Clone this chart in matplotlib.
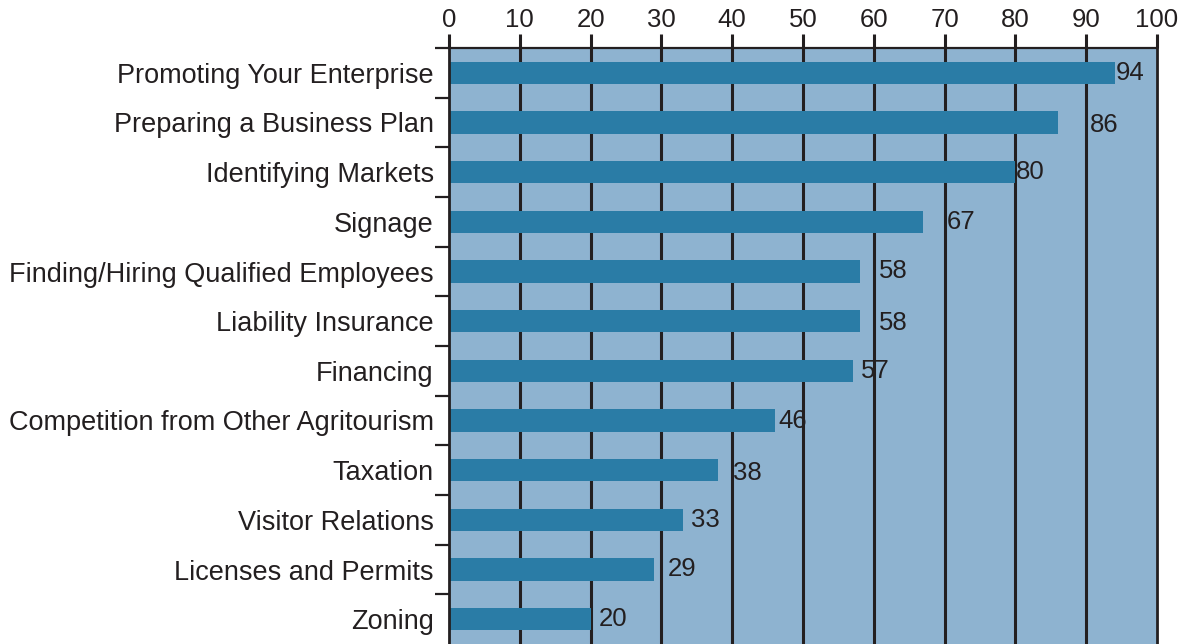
import matplotlib
matplotlib.use("Agg")
import matplotlib.pyplot as plt
import numpy as np

plt.rcParams['font.family'] = ['Liberation Sans', 'DejaVu Sans']

categories = [
    "Promoting Your Enterprise",
    "Preparing a Business Plan",
    "Identifying Markets",
    "Signage",
    "Finding/Hiring Qualified Employees",
    "Liability Insurance",
    "Financing",
    "Competition from Other Agritourism",
    "Taxation",
    "Visitor Relations",
    "Licenses and Permits",
    "Zoning",
]
values = [94, 86, 80, 67, 58, 58, 57, 46, 38, 33, 29, 20]
x_ticks = [0, 10, 20, 30, 40, 50, 60, 70, 80, 90, 100]

# label placement nudges (points) relative to each bar end
label_dx = [1, 23, 0, 17, 14, 14, 6, 3, 11, 6, 10, 6]
label_dy = [0, -2, 0, 0, 0, -1, 0, 0, -2, 0, 0, 0]

ink = "#231f20"
panel = "#8eb3d0"
bar_color = "#2a7ca6"

fig = plt.figure(figsize=(11.79, 6.44), dpi=100)
ax = fig.add_axes([449 / 1179, 0.0, (1157 - 449) / 1179, 1 - 48 / 644])
ax.set_facecolor(panel)

y = np.arange(len(categories))
ax.barh(y, values, height=0.45, color=bar_color, zorder=3)

ax.set_xlim(0, 100)
ax.set_ylim(len(categories) - 0.5, -0.5)

# vertical grid lines at every 10
for xv in x_ticks[1:-1]:
    ax.axvline(xv, color=ink, lw=2.2, zorder=2)

ax.xaxis.tick_top()
ax.set_xticks(x_ticks)
ax.set_xticklabels([str(v) for v in x_ticks])
ax.tick_params(axis='x', which='major', direction='out', length=10, width=2.2,
               color=ink, labelsize=18.5, labelcolor=ink, pad=1.5)

ax.set_yticks(y)
ax.set_yticklabels(categories)
ax.tick_params(axis='y', which='major', length=0, labelsize=19.5,
               labelcolor=ink, pad=11)
ax.set_yticks(np.arange(len(categories)) - 0.5, minor=True)
ax.tick_params(axis='y', which='minor', direction='out', length=10, width=1.6,
               color=ink)

for side in ['top', 'left', 'right']:
    ax.spines[side].set_color(ink)
ax.spines['top'].set_linewidth(1.6)
ax.spines['left'].set_linewidth(2.0)
ax.spines['right'].set_linewidth(2.0)
ax.spines['bottom'].set_visible(False)
for s in ax.spines.values():
    s.set_zorder(4)

for yi, v, dx, dy in zip(y, values, label_dx, label_dy):
    ax.annotate(str(v), xy=(v, yi), xytext=(dx, dy), textcoords='offset points',
                ha='left', va='center', fontsize=18.5, color=ink, zorder=5)

fig.savefig("out.png", dpi=100)
